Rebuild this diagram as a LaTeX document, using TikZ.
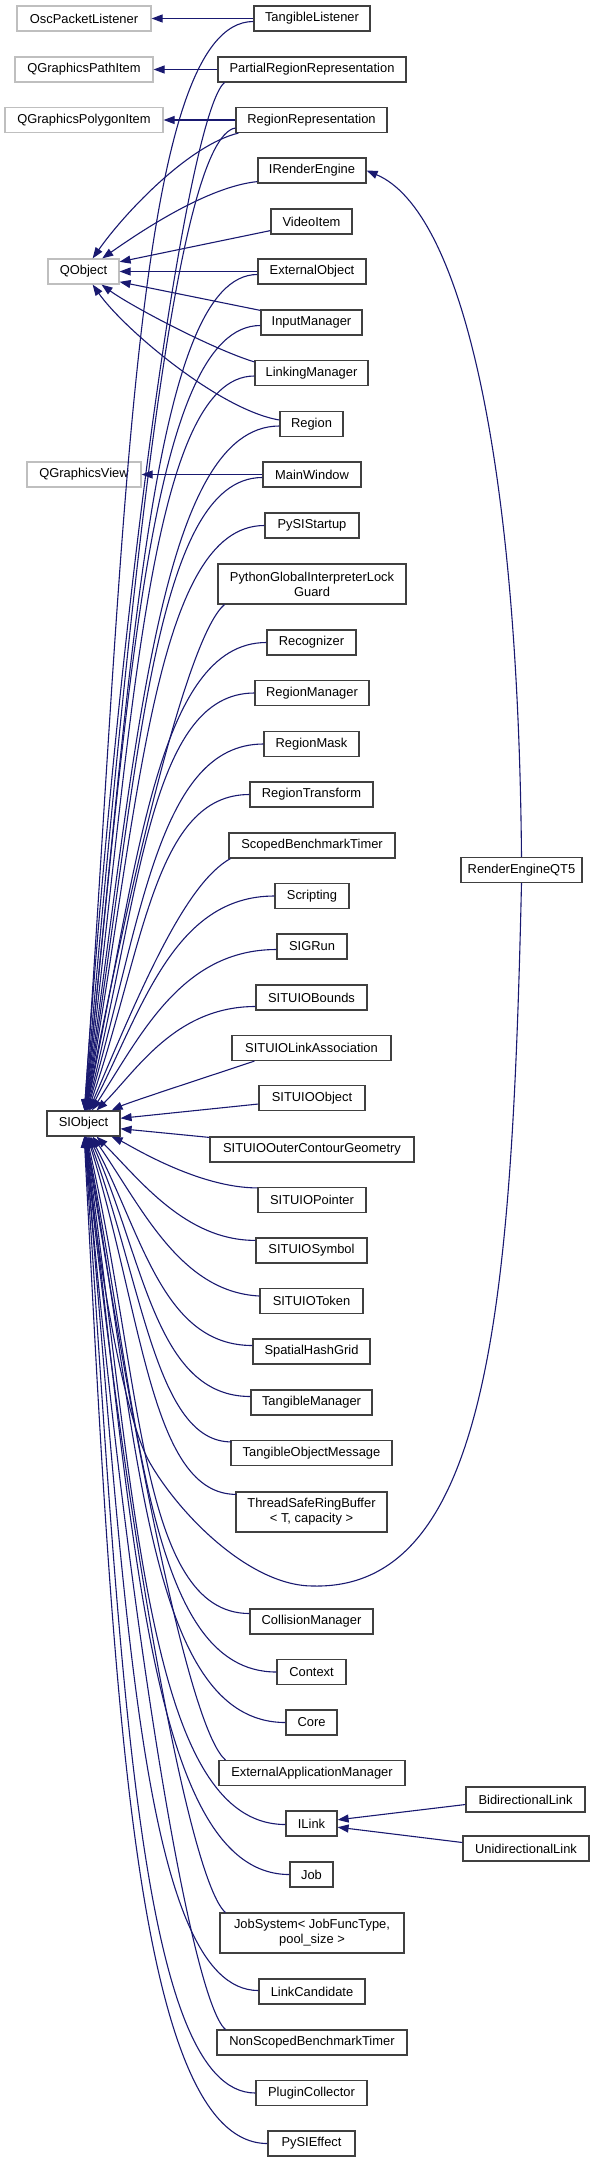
\documentclass[tikz,border=0pt]{standalone}
\usepackage{fontspec}
\setmainfont{Liberation Sans}
\usetikzlibrary{arrows.meta,calc}
\definecolor{edgec}{RGB}{25,25,112}
\definecolor{extc}{RGB}{191,191,191}
\definecolor{boxc}{RGB}{64,64,64}
\tikzset{
  cls/.style={draw=boxc, line width=1.2pt, fill=white, inner sep=0pt, align=center,
    font=\fontsize{12.9}{15}\selectfont, minimum height=25pt},
  ext/.style={cls, draw=extc},
  twol/.style={minimum height=40pt},
  edge/.style={draw=edgec, line width=1.1pt, -{Triangle[length=11pt,width=8pt]}}
}
\newcommand\siedge[4]{\draw[edge] (#1) .. controls +(#2) and +(#3:#4) .. (SIObject);}
\begin{document}
\begin{tikzpicture}[x=1pt,y=1pt]
\useasboundingbox (0,0) rectangle (596,-2163);
% left column
\node[ext, minimum width=134pt] (OscPacketListener) at (84,-18.5) {OscPacketListener};
\node[ext, minimum width=138pt] (QGraphicsPathItem) at (84,-69.5) {QGraphicsPathItem};
\node[ext, minimum width=158pt] (QGraphicsPolygonItem) at (84,-120) {QGraphicsPolygonItem};
\node[ext, minimum width=71pt] (QObject) at (83.5,-271.5) {QObject};
\node[ext, minimum width=114pt] (QGraphicsView) at (84,-474.5) {QGraphicsView};
\node[cls, minimum width=73pt] (SIObject) at (83.5,-1123.5) {SIObject};
% middle column
\node[cls, minimum width=116pt] (TangibleListener) at (312,-18.5) {TangibleListener};
\node[cls, minimum width=188pt] (PartialRegionRepresentation) at (312,-69.5) {PartialRegionRepresentation};
\node[cls, minimum width=151pt] (RegionRepresentation) at (311.5,-120) {RegionRepresentation};
\node[cls, minimum width=108pt] (IRenderEngine) at (312,-170.5) {IRenderEngine};
\node[cls, minimum width=81pt] (VideoItem) at (311.5,-221.5) {VideoItem};
\node[cls, minimum width=108pt] (ExternalObject) at (312,-271.5) {ExternalObject};
\node[cls, minimum width=101pt] (InputManager) at (311.5,-322.5) {InputManager};
\node[cls, minimum width=113pt] (LinkingManager) at (311.5,-373) {LinkingManager};
\node[cls, minimum width=63pt] (Region) at (311.5,-424) {Region};
\node[cls, minimum width=98pt] (MainWindow) at (312,-474.5) {MainWindow};
\node[cls, minimum width=94pt] (PySIStartup) at (312,-525.5) {PySIStartup};
\node[cls, twol, minimum width=188pt] (PGIL) at (312,-584) {PythonGlobalInterpreterLock\\Guard};
\node[cls, minimum width=89pt] (Recognizer) at (311.5,-642.5) {Recognizer};
\node[cls, minimum width=114pt] (RegionManager) at (312,-693) {RegionManager};
\node[cls, minimum width=95pt] (RegionMask) at (311.5,-744) {RegionMask};
\node[cls, minimum width=123pt] (RegionTransform) at (311.5,-794.5) {RegionTransform};
\node[cls, minimum width=166pt] (ScopedBenchmarkTimer) at (312,-845.5) {ScopedBenchmarkTimer};
\node[cls, minimum width=74pt] (Scripting) at (312,-896) {Scripting};
\node[cls, minimum width=70pt] (SIGRun) at (312,-946.5) {SIGRun};
\node[cls, minimum width=111pt] (SITUIOBounds) at (311.5,-997.5) {SITUIOBounds};
\node[cls, minimum width=159pt] (SITUIOLinkAssociation) at (311.5,-1048) {SITUIOLinkAssociation};
\node[cls, minimum width=106pt] (SITUIOObject) at (312,-1098) {SITUIOObject};
\node[cls, minimum width=204pt] (SITUIOOuterContourGeometry) at (312,-1149.5) {SITUIOOuterContourGeometry};
\node[cls, minimum width=108pt] (SITUIOPointer) at (312,-1200) {SITUIOPointer};
\node[cls, minimum width=111pt] (SITUIOSymbol) at (311.5,-1250.5) {SITUIOSymbol};
\node[cls, minimum width=103pt] (SITUIOToken) at (311.5,-1301) {SITUIOToken};
\node[cls, minimum width=117pt] (SpatialHashGrid) at (311.5,-1351.5) {SpatialHashGrid};
\node[cls, minimum width=121pt] (TangibleManager) at (311.5,-1402.5) {TangibleManager};
\node[cls, minimum width=161pt] (TangibleObjectMessage) at (311.5,-1453) {TangibleObjectMessage};
\node[cls, twol, minimum width=151pt] (ThreadSafeRingBuffer) at (311.5,-1512) {ThreadSafeRingBuffer\\< T, capacity >};
\node[cls, minimum width=123pt] (CollisionManager) at (311.5,-1621.5) {CollisionManager};
\node[cls, minimum width=69pt] (Context) at (311.5,-1672) {Context};
\node[cls, minimum width=51pt] (Core) at (311.5,-1722.5) {Core};
\node[cls, minimum width=186pt] (ExternalApplicationManager) at (312,-1773) {ExternalApplicationManager};
\node[cls, minimum width=51pt] (ILink) at (311.5,-1823.5) {ILink};
\node[cls, minimum width=43pt] (Job) at (311.5,-1874.5) {Job};
\node[cls, twol, minimum width=184pt] (JobSystem) at (312,-1933) {JobSystem< JobFuncType,\\pool\_size >};
\node[cls, minimum width=106pt] (LinkCandidate) at (312,-1991.5) {LinkCandidate};
\node[cls, minimum width=190pt] (NonScopedBenchmarkTimer) at (312,-2042.5) {NonScopedBenchmarkTimer};
\node[cls, minimum width=111pt] (PluginCollector) at (311.5,-2093) {PluginCollector};
\node[cls, minimum width=87pt] (PySIEffect) at (311.5,-2143.5) {PySIEffect};
% right column
\node[cls, minimum width=121pt] (RenderEngineQT5) at (521.5,-870) {RenderEngineQT5};
\node[cls, minimum width=119pt] (BidirectionalLink) at (525.5,-1799.5) {BidirectionalLink};
\node[cls, minimum width=126pt] (UnidirectionalLink) at (526,-1848.5) {UnidirectionalLink};

% straight inheritance to external classes
\draw[edge] (TangibleListener.west) -- (OscPacketListener.east);
\draw[edge] (PartialRegionRepresentation.west) -- (QGraphicsPathItem.east);
\draw[edge] (RegionRepresentation.west) -- (QGraphicsPolygonItem.east);
\draw[edge] (MainWindow.west) -- (QGraphicsView.east);

% QObject children
\draw[edge] ($(RegionRepresentation.south west)+(3,0)$) .. controls +(-50,-12) and +(55:70) .. (QObject);
\draw[edge] ($(IRenderEngine.south west)+(0,2)$) .. controls +(-50,-5) and +(35:70) .. (QObject);
\draw[edge] ($(VideoItem.south west)+(0,4)$) -- (QObject.15);
\draw[edge] (ExternalObject.west) -- (QObject.east);
\draw[edge] ($(InputManager.north west)+(0,-1)$) -- (QObject.-16);
\draw[edge] ($(LinkingManager.north west)+(0,-2)$) .. controls +(-40,12) and +(-36:60) .. (QObject);
\draw[edge] ($(Region.west)+(0,4)$) .. controls +(-60,10) and +(-55:70) .. (QObject);

% IRenderEngine <- RenderEngineQT5
\draw[edge] (RenderEngineQT5.north) .. controls (518,-450) and (460,-210) .. (IRenderEngine.east);

% ILink children
\draw[edge] ($(BidirectionalLink.west)+(0,-5)$) -- (ILink.8);
\draw[edge] ($(UnidirectionalLink.west)+(0,6)$) -- (ILink.-8);

% SIObject children above
\siedge{$(TangibleListener.west)+(0,-3)$}{-119,0}{86}{600}
\siedge{$(PartialRegionRepresentation.south west)+(7,0)$}{-35,-30}{86}{566}
\siedge{$(RegionRepresentation.west)+(0,-8)$}{-60,-10}{85}{540}
\siedge{$(ExternalObject.west)+(0,-3)$}{-105,0}{84}{460}
\siedge{$(InputManager.west)+(0,-3)$}{-110,0}{84}{430}
\siedge{$(LinkingManager.west)+(0,-3)$}{-105,0}{83}{404}
\siedge{$(Region.west)+(0,-2)$}{-120,0}{82}{378}
\siedge{$(MainWindow.west)+(0,-3)$}{-110,0}{81}{350}
\siedge{PySIStartup.west}{-110,0}{80}{320}
\siedge{$(PGIL.south west)+(7,0)$}{-35,-30}{79}{280}
\siedge{Recognizer.west}{-110,0}{78}{258}
\siedge{RegionManager.west}{-105,0}{76}{235}
\siedge{RegionMask.west}{-105,0}{74}{210}
\siedge{RegionTransform.west}{-95,0}{71}{185}
\siedge{$(ScopedBenchmarkTimer.south west)+(2,0)$}{-45,-25}{67}{150}
\siedge{Scripting.west}{-100,0}{63}{130}
\siedge{$(SIGRun.west)+(0,-3)$}{-95,0}{57}{105}
\siedge{$(SITUIOBounds.west)+(0,-9)$}{-80,0}{45}{75}
\siedge{$(SITUIOLinkAssociation.south west)+(23,0)$}{-45,-15}{25}{50}
% right side
\draw[edge] ($(SITUIOObject.west)+(0,-6)$) -- (SIObject.8);
\draw[edge] ($(SITUIOOuterContourGeometry.north west)+(0,-1)$) -- (SIObject.-8);
% SIObject children below
\siedge{$(SITUIOPointer.north west)+(0,-1)$}{-60,0}{-25}{50}
\siedge{$(SITUIOSymbol.north west)+(0,-3)$}{-70,0}{-45}{80}
\siedge{$(SITUIOToken.west)+(0,5)$}{-80,4}{-55}{100}
\siedge{$(SpatialHashGrid.west)+(0,6)$}{-90,0}{-62}{125}
\siedge{$(TangibleManager.west)+(0,6)$}{-95,0}{-66}{150}
\siedge{$(TangibleObjectMessage.north west)+(1,-2)$}{-75,0}{-70}{175}
\siedge{$(ThreadSafeRingBuffer.north west)+(1,-3)$}{-85,0}{-73}{205}
\siedge{$(CollisionManager.west)+(0,8)$}{-110,0}{-77}{262}
\siedge{Context.west}{-130,0}{-79}{295}
\siedge{Core.west}{-138,0}{-80}{323}
\siedge{$(ExternalApplicationManager.north west)+(7,0)$}{-35,30}{-81}{343}
\siedge{$(ILink.west)+(0,-1)$}{-138,0}{-82}{379}
\siedge{Job.west}{-140,0}{-83}{406}
\siedge{$(JobSystem.north west)+(6,0)$}{-35,30}{-84}{427}
\siedge{$(LinkCandidate.west)+(0,1)$}{-118,0}{-85}{470}
\siedge{$(NonScopedBenchmarkTimer.north west)+(9,0)$}{-35,30}{-85}{490}
\siedge{PluginCollector.west}{-120,0}{-86}{525}
\siedge{PySIEffect.west}{-135,0}{-87}{554}

% RenderEngineQT5 -> SIObject (long loop)
\draw[edge] (RenderEngineQT5.south) .. controls (512,-1300) and (490,-1590) .. (313,-1586)
  .. controls (250,-1586) and (180,-1515) .. (150,-1463)
  .. controls (125,-1420) and +(-84:150) .. (SIObject);
\end{tikzpicture}
\end{document}
